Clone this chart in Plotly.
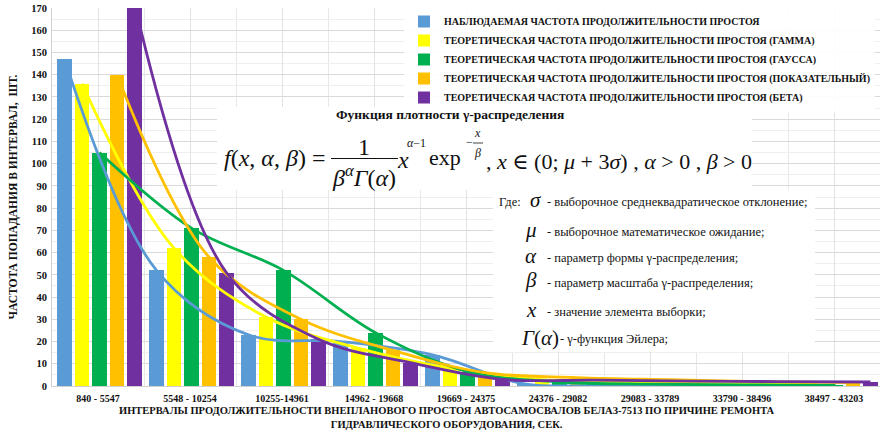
import plotly.graph_objects as go

# ---------------- data ----------------
categories = ["840 - 5547", "5548 - 10254", "10255-14961", "14962 - 19668",
              "19669 - 24375", "24376 - 29082", "29083 - 33789",
              "33790 - 38496", "38497 - 43203"]

observed = [147, 52, 23, 20, 14, 1.0, 0.5, 0.3, 0.3]
gamma    = [136, 62, 31, 17, 8, 2.8, 1.6, 1.0, 0.8]
gauss    = [105, 71, 52, 24, 6.5, 1.8, 0.8, 0.5, 0.3]
expon    = [140, 58, 30, 16, 6, 3.8, 2.8, 2.0, 1.5]
beta     = [172, 51, 21, 10.5, 3, 2.6, 2.2, 2.0, 1.8]

series_names = [
    "НАБЛЮДАЕМАЯ ЧАСТОТА ПРОДОЛЖИТЕЛЬНОСТИ ПРОСТОЯ",
    "ТЕОРЕТИЧЕСКАЯ ЧАСТОТА ПРОДОЛЖИТЕЛЬНОСТИ ПРОСТОЯ (ГАММА)",
    "ТЕОРЕТИЧЕСКАЯ ЧАСТОТА ПРОДОЛЖИТЕЛЬНОСТИ ПРОСТОЯ (ГАУССА)",
    "ТЕОРЕТИЧЕСКАЯ ЧАСТОТА ПРОДОЛЖИТЕЛЬНОСТИ ПРОСТОЯ (ПОКАЗАТЕЛЬНЫЙ)",
    "ТЕОРЕТИЧЕСКАЯ ЧАСТОТА ПРОДОЛЖИТЕЛЬНОСТИ ПРОСТОЯ (БЕТА)",
]
series_values = [observed, gamma, gauss, expon, beta]
colors = ["#5B9BD5", "#FFFF00", "#00B050", "#FFC000", "#7030A0"]

y_ticks = list(range(0, 171, 10))

# ---------------- layout helpers ----------------
FIG_W, FIG_H = 890, 432
ML, MR, MT, MB = 52, 10, 8, 46
PW, PH = FIG_W - ML - MR, FIG_H - MT - MB
SERIF = "Liberation Serif, Times New Roman, Times, DejaVu Serif, serif"

def px(xp):
    return (xp - ML) / PW

def py(yp):
    return 1 - (yp - MT) / PH

offsets = [-0.364, -0.174, 0.016, 0.206, 0.396]
bar_w = 0.16

fig = go.Figure()
n = len(categories)
for k, (name, vals, col) in enumerate(zip(series_names, series_values, colors)):
    fig.add_trace(go.Bar(
        x=[i + offsets[k] for i in range(n)], y=vals, width=bar_w,
        name=name, marker=dict(color=col, line=dict(width=0)),
        showlegend=True))
for k, (name, vals, col) in enumerate(zip(series_names, series_values, colors)):
    fig.add_trace(go.Scatter(
        x=[i + offsets[k] for i in range(n)], y=vals, mode="lines",
        line=dict(color=col, width=2.8, shape="spline", smoothing=1.0),
        showlegend=False, hoverinfo="skip", cliponaxis=True))

annotations = []
def ann(x, y, text, size, xanchor="center", yanchor="middle", bold=False, color="#111"):
    annotations.append(dict(
        x=px(x), y=py(y), xref="paper", yref="paper", text=text, showarrow=False,
        xanchor=xanchor, yanchor=yanchor,
        font=dict(family=SERIF, size=size, color=color, weight="bold" if bold else "normal")))

# x-axis title
ann(447, 403, "ИНТЕРВАЛЫ ПРОДОЛЖИТЕЛЬНОСТИ ВНЕПЛАНОВОГО ПРОСТОЯ АВТОСАМОСВАЛОВ БЕЛАЗ-7513 ПО ПРИЧИНЕ РЕМОНТА<br>"
    "ГИДРАВЛИЧЕСКОГО ОБОРУДОВАНИЯ, СЕК.", 10.5, yanchor="top", bold=True)

# formula block
ann(450, 115, "Функция плотности γ-распределения", 13.5, bold=True)
ann(222, 158, "<i>f</i>(<i>x</i>, <i>α</i>, <i>β</i>) =", 24, xanchor="left")
ann(364, 147, "1", 24)
ann(364, 176, "<i>β</i><sup><i>α</i></sup><i>Γ</i>(<i>α</i>)", 24)
ann(403, 160, "<i>x</i>", 24)
ann(405, 143, "<i>α</i>−1", 12, xanchor="left")
ann(445, 158, "exp", 22)
ann(469, 142, "−", 12)
ann(478, 133, "<i>x</i>", 12)
ann(478, 153, "<i>β</i>", 12)
ann(484, 161, ", <i>x</i> ∈ (0; <i>μ</i> + 3<i>σ</i>) , <i>α</i> > 0 , <i>β</i> > 0", 22, xanchor="left")

# explanation block
ann(497, 202, "Где:", 12.5, xanchor="left")
desc = [
    (536, 200, "<i>σ</i>", 545, 202, "- выборочное среднеквадратическое отклонение;"),
    (531, 230, "<i>μ</i>", 545, 232, "- выборочное математическое ожидание;"),
    (531, 256, "<i>α</i>", 545, 258, "- параметр формы γ-распределения;"),
    (531, 280, "<i>β</i>", 545, 283, "- параметр масштаба γ-распределения;"),
    (531, 310, "<i>x</i>", 545, 312, "- значение элемента выборки;"),
    (540, 338, "<i>Γ</i>(<i>α</i>)", 558, 339, "- γ-функция Эйлера;"),
]
for sx, sy, sym, dx, dy, txt in desc:
    ann(sx, sy, sym, 21)
    ann(dx, dy, txt, 12.5, xanchor="left")

shapes = [
    dict(type="rect", xref="paper", yref="paper", x0=px(217), x1=px(752), y0=py(107), y1=py(190),
         fillcolor="white", line=dict(width=0), layer="above"),
    dict(type="rect", xref="paper", yref="paper", x0=px(493), x1=px(815), y0=py(190), y1=py(352),
         fillcolor="white", line=dict(width=0), layer="above"),
    dict(type="line", xref="paper", yref="paper", x0=px(331), x1=px(398), y0=py(158.5), y1=py(158.5),
         line=dict(color="#111", width=1.2), layer="above"),
    dict(type="line", xref="paper", yref="paper", x0=px(473), x1=px(483), y0=py(143), y1=py(143),
         line=dict(color="#111", width=0.8), layer="above"),
]

fig.update_layout(
    width=FIG_W, height=FIG_H,
    margin=dict(l=ML, r=MR, t=MT, b=MB, autoexpand=False),
    paper_bgcolor="white", plot_bgcolor="white",
    barmode="overlay", bargap=0,
    font=dict(family=SERIF, color="#111"),
    showlegend=True,
    legend=dict(x=px(404), y=py(7), xanchor="left", yanchor="top",
                bgcolor="rgba(255,255,255,0.9)", borderwidth=0,
                font=dict(family=SERIF, size=10, weight="bold", color="#111"),
                itemwidth=30, tracegroupgap=0),
    annotations=annotations, shapes=shapes,
    xaxis=dict(range=[-0.5, n - 0.5], tickmode="array", tickvals=list(range(n)),
               ticktext=categories, showgrid=True, gridcolor="#E2E2E2", gridwidth=1,
               tickfont=dict(family=SERIF, size=10, weight="bold", color="#111"),
               ticklabelstandoff=3,
               showline=True, linecolor="#D0D0D0", ticks="", zeroline=False,
               minor=dict(tickmode="array", tickvals=[i + 0.5 for i in range(-1, n)],
                          showgrid=True, gridcolor="#E8E8E8", ticks="")),
    yaxis=dict(range=[0, 170], tickmode="array", tickvals=y_ticks,
               showgrid=True, gridcolor="#DADADA", gridwidth=1,
               tickfont=dict(family=SERIF, size=10.5, weight="bold", color="#111"),
               showline=True, linecolor="#D0D0D0", zeroline=False, ticks="",
               ticklabelstandoff=2,
               minor=dict(dtick=5, showgrid=True, gridcolor="#EFEFEF", ticks=""),
               title=dict(text="ЧАСТОТА ПОПАДАНИЯ В ИНТЕРВАЛ,  ШТ.",
                          font=dict(family=SERIF, size=11.5, weight="bold", color="#111"),
                          standoff=11)),
)

fig.write_html("out.html", config={"displayModeBar": False},
               post_script="document.body.style.margin='0';document.body.style.overflow='hidden';")
